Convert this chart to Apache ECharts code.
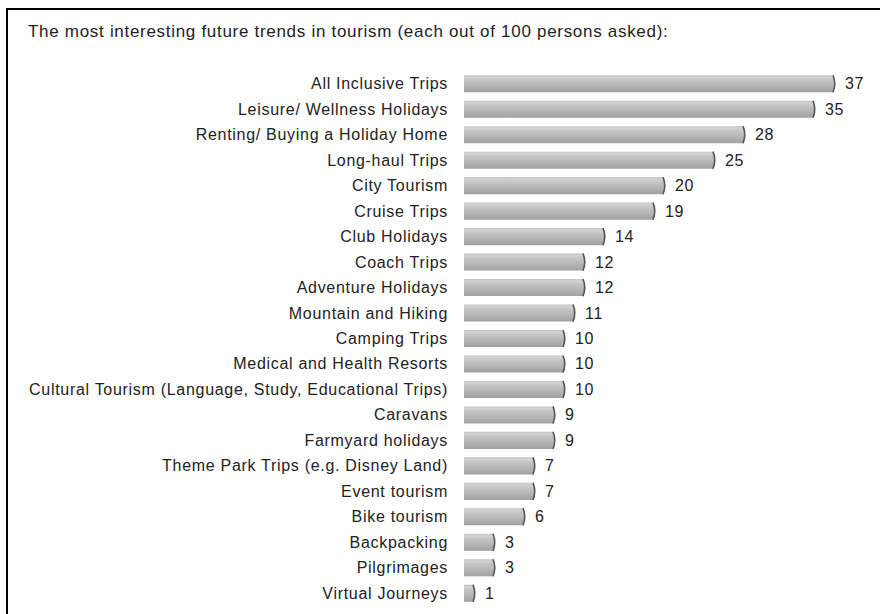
<!DOCTYPE html>
<html>
<head>
<meta charset="utf-8">
<script src="https://cdn.jsdelivr.net/npm/echarts@6/dist/echarts.min.js"></script>
<style>
  html, body { margin: 0; padding: 0; background: #fff; }
  #chart { width: 880px; height: 614px; }
  #chart text { letter-spacing: 0.7px; }
</style>
</head>
<body>
<div id="chart"></div>
<script>
const titleText = 'The most interesting future trends in tourism (each out of 100 persons asked):';

const categories = [
  'All Inclusive Trips',
  'Leisure/ Wellness Holidays',
  'Renting/ Buying a Holiday Home',
  'Long-haul Trips',
  'City Tourism',
  'Cruise Trips',
  'Club Holidays',
  'Coach Trips',
  'Adventure Holidays',
  'Mountain and Hiking',
  'Camping Trips',
  'Medical and Health Resorts',
  'Cultural Tourism (Language, Study, Educational Trips)',
  'Caravans',
  'Farmyard holidays',
  'Theme Park Trips (e.g. Disney Land)',
  'Event tourism',
  'Bike tourism',
  'Backpacking',
  'Pilgrimages',
  'Virtual Journeys'
];

const values = [37, 35, 28, 25, 20, 19, 14, 12, 12, 11, 10, 10, 10, 9, 9, 7, 7, 6, 3, 3, 1];

const FONT = '"Liberation Sans", Arial, sans-serif';
const chart = echarts.init(document.getElementById('chart'), null, { renderer: 'svg' });

// Cylinder-like bar: shaded body plus a dark rounded cap on the right end
function renderBar(params, api) {
  const v = api.value(0);
  const idx = api.value(1);
  const s = api.coord([0, idx]);
  const e = api.coord([v, idx]);
  const h = api.size([0, 1])[1] * 0.67;
  const top = s[1] - h / 2;
  const bottom = s[1] + h / 2;
  const w = e[0] - s[0];
  return {
    type: 'group',
    children: [
      {
        type: 'rect',
        shape: { x: s[0], y: top, width: w, height: h },
        style: {
          fill: new echarts.graphic.LinearGradient(0, 0, 0, 1, [
            { offset: 0, color: '#c4c4c4' },
            { offset: 0.12, color: '#d2d2d2' },
            { offset: 0.3, color: '#c4c4c4' },
            { offset: 0.6, color: '#b6b6b6' },
            { offset: 1, color: '#a0a0a0' }
          ])
        }
      },
      {
        type: 'path',
        shape: {
          pathData: 'M' + (e[0] - 1) + ' ' + top +
            ' Q' + (e[0] + 2.5) + ' ' + s[1] + ' ' + (e[0] - 1) + ' ' + bottom
        },
        style: { fill: null, stroke: '#555', lineWidth: 1.6 }
      },
      {
        type: 'text',
        style: {
          x: e[0] + 11,
          y: s[1],
          text: String(v),
          fill: '#222',
          font: '16px ' + FONT,
          verticalAlign: 'middle',
          align: 'left'
        }
      }
    ]
  };
}

chart.setOption({
  animation: false,
  backgroundColor: '#fff',
  graphic: [
    {
      type: 'rect',
      shape: { x: 7, y: 9, width: 900, height: 700 },
      style: { fill: null, stroke: '#000', lineWidth: 2 },
      z: 10
    },
    {
      type: 'text',
      left: 28,
      top: 23,
      style: { text: titleText, fill: '#222', font: '17px ' + FONT }
    }
  ],
  grid: { left: 464, right: 16, top: 71, bottom: 8, containLabel: false },
  xAxis: {
    type: 'value',
    min: 0,
    max: 40,
    show: false
  },
  yAxis: {
    type: 'category',
    data: categories,
    inverse: true,
    axisLine: { show: false },
    axisTick: { show: false },
    splitLine: { show: false },
    axisLabel: {
      margin: 16,
      color: '#222',
      fontSize: 16,
      fontFamily: FONT
    }
  },
  series: [{
    type: 'custom',
    renderItem: renderBar,
    encode: { x: 0, y: 1 },
    data: values.map((v, i) => [v, i])
  }]
});
</script>
</body>
</html>
